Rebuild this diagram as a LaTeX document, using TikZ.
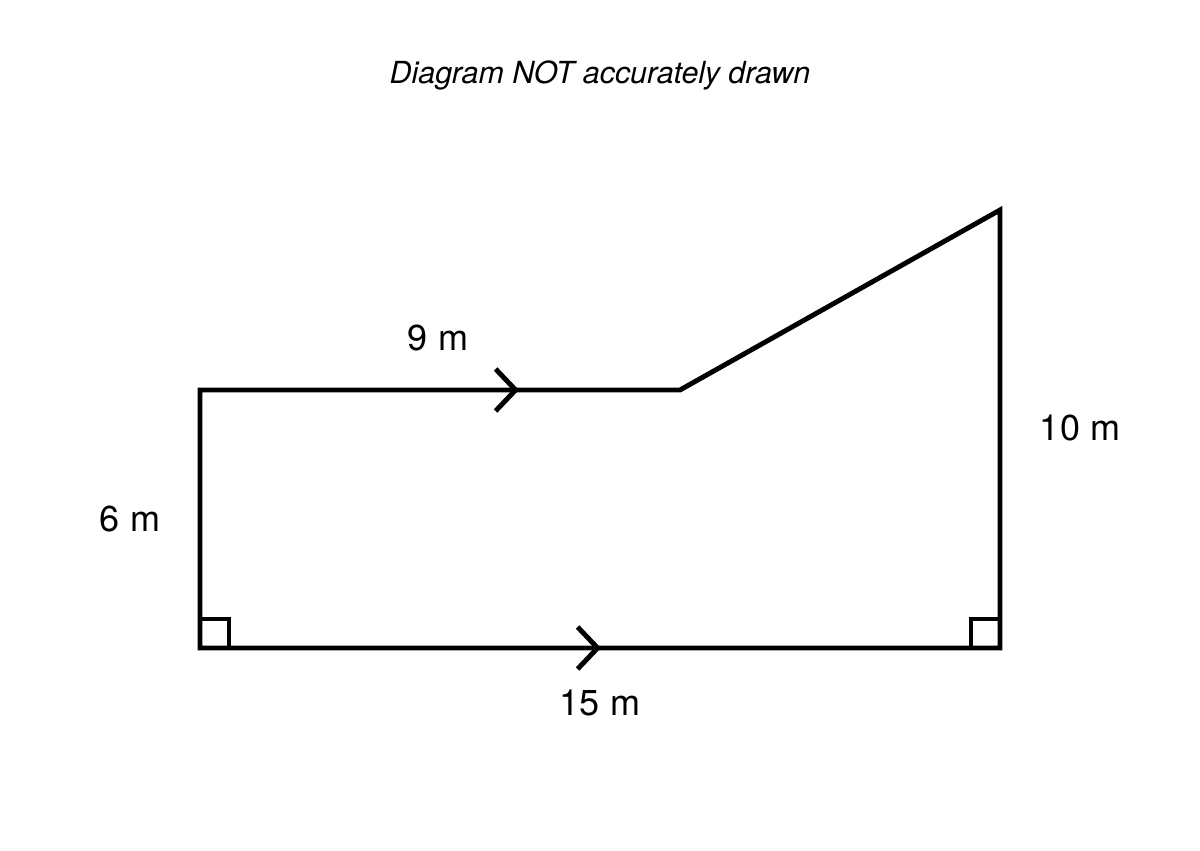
\documentclass[tikz,border=0pt]{standalone}
\usepackage{fontspec}
\setmainfont{TeX Gyre Heros}
\usetikzlibrary{arrows.meta}

\begin{document}
\begin{tikzpicture}[
  edge/.style={line width=2.8pt, line join=miter},
  chevron/.style={edge, -{Straight Barb[length=0.4cm, width=0.84cm, line width=2.8pt]}},
  lengthlabel/.style={font=\fontsize{20.5}{24}\selectfont},
  tick/.style={line width=2.8pt}
]
\useasboundingbox (0,0) rectangle (24,17);

% Corners of the shape
\coordinate (bl) at (4,4.04);
\coordinate (tl) at (4,9.2);
\coordinate (kink) at (13.6,9.2);
\coordinate (tr) at (20,12.8);
\coordinate (br) at (20,4.04);
% Arrow tips on the parallel sides
\coordinate (toptip) at (10.38,9.2);
\coordinate (bottip) at (12.02,4.04);

% Outline
\draw[edge] (toptip) -- (kink) -- (tr) -- (br) -- (bl) -- (tl) -- (toptip);
\draw[chevron] (tl) -- (toptip);
\draw[chevron] (bl) -- (bottip);

% Right angles
\draw[tick] (bl) ++(0,0.58) -| ++(0.58,-0.58);
\draw[tick] (br) ++(0,0.58) -| ++(-0.58,-0.58);

% Labels
\node[lengthlabel] (nine) at (8.76,10.24) {9 m};
\node[lengthlabel] (fifteen) at (12,2.94) {15 m};
\node[lengthlabel] (six) at (2.6,6.62) {6 m};
\node[lengthlabel] (ten) at (21.6,8.44) {10 m};
\node[font=\fontsize{17.3}{21}\selectfont\itshape] (title) at (12,15.5) {Diagram NOT accurately drawn};
\end{tikzpicture}
\end{document}
